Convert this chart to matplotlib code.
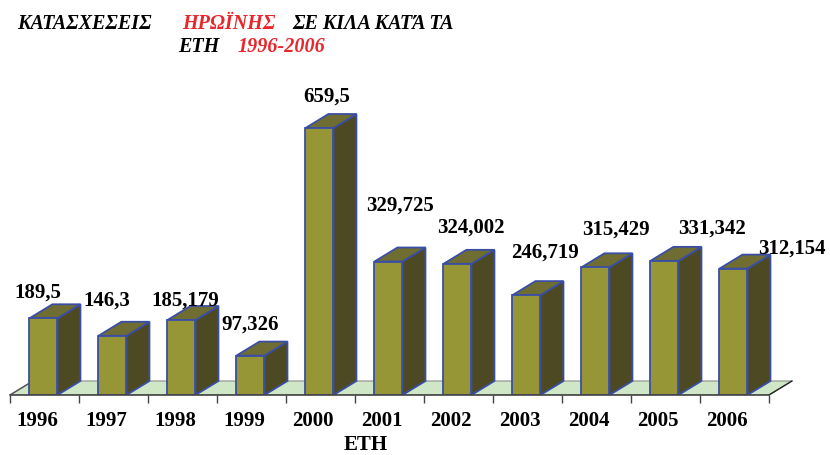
import matplotlib

matplotlib.use("Agg")
import matplotlib.pyplot as plt
from matplotlib.patches import Polygon

# data
years = ["1996", "1997", "1998", "1999", "2000", "2001",
         "2002", "2003", "2004", "2005", "2006"]
kilos = [189.5, 146.3, 185.179, 97.326, 659.5, 329.725,
         324.002, 246.719, 315.429, 331.342, 312.154]
kilo_labels = ["189,5", "146,3", "185,179", "97,326", "659,5", "329,725",
               "324,002", "246,719", "315,429", "331,342", "312,154"]

# where each value label sits, in points from the bar's front-top centre
label_nudge = [(-4, 19), (-4, 26), (3, 15), (0, 23), (5, 23), (8, 41),
               (10, 27), (13, 31), (15, 28), (34, 24), (42, 15)]

FRONT = "#969637"
TOP = "#6f6d31"
SIDE = "#4d4a23"
EDGE = "#3a4ea6"
FLOOR = "#cfe7c6"
SERIF = ["Liberation Serif", "DejaVu Serif"]

W, H = 830, 456
fig = plt.figure(figsize=(W / 100, H / 100), dpi=100)
# axes placed so the category grid is 69 px wide, baseline at y=396 px
ax = fig.add_axes([10 / W, 60 / H, 793.5 / W, 336 / H])
ax.set_xlim(-0.5, 11.0)
ax.set_ylim(0, 830)

dx = 0.333   # depth, category units
dy = 34.6    # depth, value units
bw = 0.406
n = len(years)

floor = Polygon([(-0.5, 0), (n - 0.5, 0), (n - 0.5 + dx, dy), (-0.5 + dx, dy)],
                closed=True, facecolor=FLOOR, edgecolor="#8c8c8c", lw=0.8, zorder=1)
ax.add_patch(floor)
ax.plot([n - 0.5, n - 0.5 + dx], [0, dy], color="#222222", lw=1.0, zorder=1.5)
ax.plot([-0.5, -0.5 + dx], [0, dy], color="#555555", lw=1.0, zorder=1.5)

xs = [i - 0.015 for i in range(n)]
ax.bar(xs, kilos, width=bw, color=FRONT, edgecolor=EDGE, lw=1.3, zorder=3)
for x, v in zip(xs, kilos):
    x0, x1 = x - bw / 2, x + bw / 2
    top = Polygon([(x0, v), (x1, v), (x1 + dx, v + dy), (x0 + dx, v + dy)],
                  closed=True, facecolor=TOP, edgecolor=EDGE, lw=1.3, zorder=2.5)
    side = Polygon([(x1, 0), (x1 + dx, dy), (x1 + dx, v + dy), (x1, v)],
                   closed=True, facecolor=SIDE, edgecolor=EDGE, lw=1.3, zorder=2.5)
    ax.add_patch(side)
    ax.add_patch(top)

for x, v, lab, (ox, oy) in zip(xs, kilos, kilo_labels, label_nudge):
    ax.annotate(lab, xy=(x, v), xytext=(ox, oy), textcoords="offset points",
                ha="center", va="center", fontsize=15, fontweight="bold",
                family=SERIF, color="black", zorder=5)

for s in ["top", "right", "left"]:
    ax.spines[s].set_visible(False)
ax.spines["bottom"].set_bounds(-0.5, n - 0.5)
ax.spines["bottom"].set_color("#444444")
ax.spines["bottom"].set_linewidth(1.2)
ax.spines["bottom"].set_zorder(4)
ax.set_yticks([])
ax.set_xticks([i - 0.11 for i in range(n)])
ax.set_xticklabels(years, fontsize=15, fontweight="bold", family=SERIF)
ax.tick_params(axis="x", which="major", length=0, pad=11)
ax.set_xticks([i - 0.5 for i in range(n + 1)], minor=True)
ax.tick_params(axis="x", which="minor", length=6, width=1.0, color="#444444")

fig.text(366 / W, 1 - 445 / H, "ΕΤΗ", ha="center", va="center",
         fontsize=15, fontweight="bold", family=SERIF)

# title, two lines, black and red pieces
title_bits = [
    ("ΚΑΤΑΣΧΕΣΕΙΣ", 84, 24, "black"),
    ("ΗΡΩΪΝΗΣ", 229, 24, "#e8262b"),
    ("ΣΕ ΚΙΛΑ ΚΑΤΆ ΤΑ", 373, 24, "black"),
    ("ΕΤΗ", 199, 47, "black"),
    ("1996-2006", 281, 47, "#e8262b"),
]
for txt, px, py, col in title_bits:
    fig.text(px / W, 1 - py / H, txt, ha="center", va="center", fontsize=14.5,
             fontweight="bold", fontstyle="italic", family=SERIF, color=col)

fig.savefig("out.png", dpi=100)
